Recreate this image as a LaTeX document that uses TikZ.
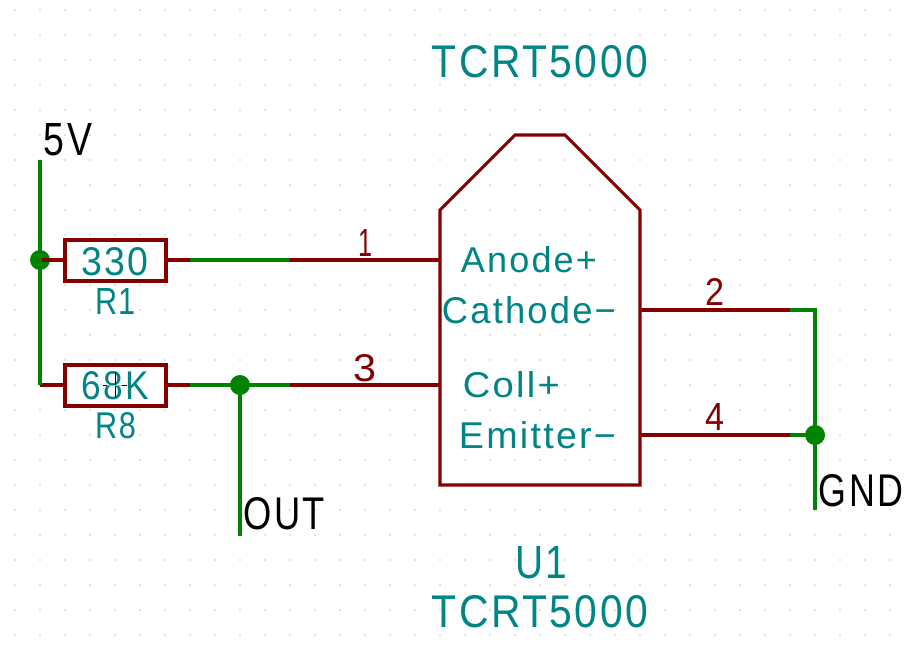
\documentclass[tikz,border=0pt]{standalone}
\usepackage{fontspec}
\usepackage{graphicx}
\setmainfont{Liberation Sans}[LetterSpace=6]
\definecolor{wirecol}{HTML}{008400}
\definecolor{pincol}{HTML}{840000}
\definecolor{fieldcol}{HTML}{008484}
\definecolor{dotcol}{HTML}{848484}
\newcommand{\fittext}[3]{\resizebox{#1pt}{#2pt}{#3}}
\tikzset{
  wire/.style={draw=wirecol,line width=3.1pt},
  pinline/.style={draw=pincol,line width=3.1pt},
  body/.style={draw=pincol,line width=3.1pt,line join=miter},
  resbox/.style={draw=pincol,line width=4.7pt,fill=white,rectangle,minimum width=101pt,minimum height=41pt,inner sep=0pt},
  junction/.style={circle,fill=wirecol,minimum size=20pt,inner sep=0pt},
  field/.style={text=fieldcol,inner sep=0pt},
  blacklabel/.style={text=black,inner sep=0pt},
  pinnum/.style={text=pincol,inner sep=0pt},
}
\begin{document}
\begin{tikzpicture}[x=1pt,y=-1pt]
\useasboundingbox (0,0) rectangle (914,646);
\fill[white] (0,0) rectangle (914,646);
\foreach \gx in {15,40,...,890}
  \foreach \gy in {10,35,...,635}
    \fill[dotcol] (\gx,\gy) circle (0.7pt);

% symbol body
\draw[body] (440,210) -- (515,135) -- (565,135) -- (640,210) -- (640,485) -- (440,485) -- cycle;

% named points
\coordinate (vtop) at (40,160);
\coordinate (vcorner) at (40,385);
\coordinate (r1g) at (190,260);
\coordinate (r1e) at (290,260);
\coordinate (u1p1) at (440,260);
\coordinate (r8g) at (190,385);
\coordinate (r8e) at (290,385);
\coordinate (u1p3) at (440,385);
\coordinate (u1p2) at (640,310);
\coordinate (u1p4) at (640,435);
\coordinate (p2e) at (790,310);
\coordinate (p4e) at (790,435);
\coordinate (gcorner) at (815,310);
\coordinate (gend) at (815,510);
\coordinate (outend) at (240,536);

\node[junction] (j1) at (40,260) {};
\node[junction] (j2) at (240,385) {};
\node[junction] (j3) at (815,435) {};
\node[resbox] (R1) at (115.5,260.5) {};
\node[resbox] (R8) at (115.5,385.5) {};

% pins
\draw[pinline] (j1.center) -- (j1.center -| R1.west);
\draw[pinline] (vcorner) -- (vcorner -| R8.west);
\draw[pinline] (r1g -| R1.east) -- (r1g);
\draw[pinline] (r8g -| R8.east) -- (r8g);
\draw[pinline] (r1e) -- (u1p1);
\draw[pinline] (r8e) -- (u1p3);
\draw[pinline] (u1p2) -- (p2e);
\draw[pinline] (u1p4) -- (p4e);

% wires
\draw[wire] (vtop) -- (vcorner);
\draw[wire] (r1g) -- (r1e);
\draw[wire] (r8g) -- (r8e);
\draw[wire] (j2.center) -- (outend);
\draw[wire] (p2e) -- (gcorner) -- (gend);
\draw[wire] (p4e) -- (j3.center);

% field texts
\node[field] (t1) at (540,62) {\fittext{216}{32}{TCRT5000}};
\node[field] (t2) at (541,563) {\fittext{52}{32}{U1}};
\node[field] (t3) at (540,612) {\fittext{216}{32}{TCRT5000}};
\node[field] (v1) at (115,262) {\fittext{67}{28}{330}};
\node[field] (v2) at (115.5,386) {\fittext{67}{28}{68K}};
\node[field] (n1) at (115.5,301) {\fittext{41}{26}{R1}};
\node[field] (n2) at (115.5,426) {\fittext{41}{26}{R8}};
\node[field] (a1) at (529,260) {\fittext{136}{26}{Anode+}};
\node[field] (a2) at (529,310) {\fittext{174}{27}{Cathode−}};
\node[field] (a3) at (511.5,385) {\fittext{97}{26}{Coll+}};
\node[field] (a4) at (537.5,435) {\fittext{157}{27}{Emitter−}};

\node[pinnum] (p1) at (365,243) {\fittext{14}{27}{1}};
\node[pinnum] (p3) at (365,368) {\fittext{23}{27}{3}};
\node[pinnum] (p2) at (715,292) {\fittext{19}{27}{2}};
\node[pinnum] (p4) at (715,417) {\fittext{19}{27}{4}};

\node[blacklabel] (l5v) at (68,140) {\fittext{48}{32}{5V}};
\node[blacklabel] (lout) at (284.5,514) {\fittext{81}{32}{OUT}};
\node[blacklabel] (lgnd) at (861,491) {\fittext{84}{32}{GND}};

% cursor
\draw[black,line width=0.7pt] (103,385) -- (127,385) (115,372) -- (115,397);
\draw[red!40,line width=0.7pt] (107,385) -- (122,385);
\end{tikzpicture}
\end{document}
